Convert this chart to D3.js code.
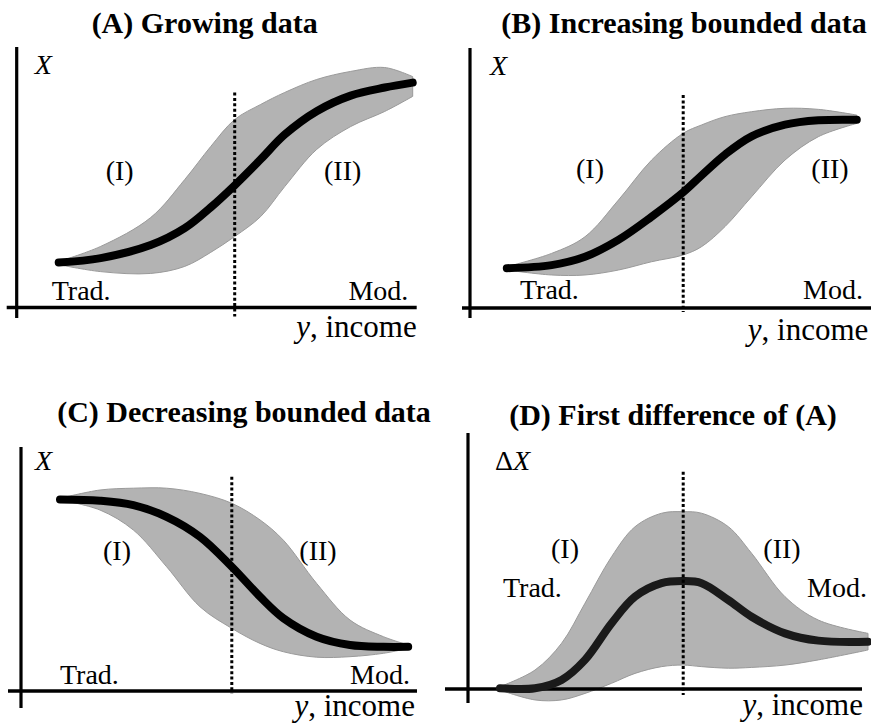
<!DOCTYPE html>
<html>
<head>
<meta charset="utf-8">
<script src="https://cdn.jsdelivr.net/npm/d3@7/dist/d3.min.js"></script>
</head>
<body style="margin:0">
<svg id="chart" width="871" height="723"></svg>
<script>
// ---------- DATA (x: income position 0-100, y: X level 0-100) ----------
const titles = ["(A) Growing data", "(B) Increasing bounded data", "(C) Decreasing bounded data", "(D) First difference of (A)"];
const yLabels = ["X", "X", "X", "\u0394X"];
const regionLabels = ["(I)", "(II)"];
const stageLabels = ["Trad.", "Mod."];

// Panel A
const xA   = [10.5, 21, 33.5, 42, 48.5, 54.5, 61, 67, 75, 83.5, 92, 99];
const midA = [17.3, 19.0, 24.0, 30.5, 38.5, 47.0, 57.0, 66.5, 75.5, 81.5, 84.6, 86.5];
const hiA  = [17.7, 23.5, 34.6, 49.2, 61.9, 72.3, 78.1, 82.7, 87.7, 90.8, 92.3, 88.8];
const loA  = [16.5, 13.8, 13.1, 15.8, 21.2, 27.3, 35.0, 46.5, 60.8, 69.6, 75.4, 81.2];
// Panel B
const xB   = [9.2, 20.4, 28.75, 37.1, 45.4, 53.3, 57.9, 63.75, 70.4, 78.75, 87.1, 96.7];
const midB = [15.3, 16.5, 19.7, 26.2, 35.1, 44.5, 51.0, 59.0, 66.0, 70.5, 72.2, 72.4];
const hiB  = [15.9, 21.0, 27.4, 41.5, 56.9, 67.2, 70.4, 73.6, 75.5, 76.8, 76.4, 74.2];
const loB  = [14.6, 12.7, 12.7, 14.6, 17.8, 20.4, 23.6, 31.3, 42.8, 56.9, 65.9, 71.0];
// Panel C
const xC   = [9.75, 19.75, 28.1, 36.4, 44.75, 52.7, 59.75, 65.6, 73.9, 82.25, 90.6, 96.8];
const midC = [73.7, 73.2, 71.5, 67.0, 59.3, 47.8, 36.3, 28.0, 20.9, 17.7, 17.0, 17.0];
const hiC  = [74.1, 77.3, 78.0, 78.0, 76.0, 72.2, 65.8, 58.0, 41.4, 27.3, 20.9, 17.7];
const loC  = [73.5, 69.6, 61.9, 47.8, 32.4, 24.1, 18.3, 15.1, 13.0, 13.2, 14.5, 16.4];
// Panel D
const xD   = [8, 16.75, 23.4, 29.25, 35.9, 41.75, 48.4, 53.8, 58.4, 65.1, 70.9, 79.25, 87.6, 100];
const midD = [0.3, 0.3, 3.5, 11.2, 25.3, 35.5, 40.7, 41.5, 40.7, 34.2, 27.8, 21.4, 18.6, 18.2];
const hiD  = [0.9, 7.3, 17.6, 33.0, 50.9, 62.4, 67.6, 68.2, 67.6, 62.4, 52.2, 35.5, 26.5, 21.4];
const loD  = [-0.4, -4.2, -4.2, -1.7, 2.2, 6.0, 8.6, 9.2, 8.6, 8.0, 8.3, 9.2, 11.2, 15.0];

// Threshold (dotted line) x-position per panel
const thresholdX = [54.5, 53.3, 52.7, 53.8];

const FONT = '"Liberation Serif"';

// ---------- LAYOUT ----------
const layout = [
  { ox: 16.7, oy: 307.5, vTop: -260.5, vBot: 10.5, hL: -10, hR: 400, dotTop: 82.7, dotBot: -3.5, lineColor: "#000",
    title: [188, -274.5], yl: [18, -234], r1: [103, -127.5], r2: [326, -127.5], trad: [35, -8], mod: [391.6, -8], inc: [400, 29] },
  { ox: 470, oy: 308, vTop: -260, vBot: 10, hL: -8, hR: 401, dotTop: 81.9, dotBot: -1.5, lineColor: "#000",
    title: [214, -274.7], yl: [20, -233], r1: [120, -130], r2: [360, -130], trad: [50, -8.7], mod: [393, -8.7], inc: [398.3, 32] },
  { ox: 21, oy: 691, vTop: -244, vBot: 17, hL: -13, hR: 396, dotTop: 82.4, dotBot: -0.9, lineColor: "#000",
    title: [223, -269.3], yl: [14, -221], r1: [96, -131], r2: [297, -131], trad: [39, -7], mod: [389, -7], inc: [394, 25] },
  { ox: 468, oy: 689, vTop: -256, vBot: 14, hL: -23, hR: 394, dotTop: 83.6, dotBot: -2.3, lineColor: "#1a1a1a",
    title: [205, -264], yl: [27, -219], r1: [97, -131], r2: [314, -131], trad: [35, -92], mod: [399, -92], inc: [395, 26] }
];

const series = [
  { x: xA, mid: midA, hi: hiA, lo: loA },
  { x: xB, mid: midB, hi: hiB, lo: loB },
  { x: xC, mid: midC, hi: hiC, lo: loC },
  { x: xD, mid: midD, hi: hiD, lo: loD }
];

const svg = d3.select("#chart");

function txt(x, y, size, anchor) {
  return svg.append("text").attr("x", x).attr("y", y)
    .attr("text-anchor", anchor || "start")
    .style("font-family", FONT).attr("font-size", size);
}

series.forEach((s, i) => {
  const L = layout[i];
  const g = svg.append("g");
  const xs = d3.scaleLinear().domain([0, 100]).range([L.ox, L.ox + 400]);
  const ys = d3.scaleLinear().domain([0, 100]).range([L.oy, L.oy - 260]);

  const pts = s.x.map((xv, k) => ({ x: xv, m: s.mid[k], h: s.hi[k], l: s.lo[k] }));

  // band
  const area = d3.area()
    .x(d => xs(d.x)).y0(d => ys(d.l)).y1(d => ys(d.h))
    .curve(d3.curveCatmullRom.alpha(0.5));
  g.append("path").datum(pts).attr("d", area)
    .attr("fill", "#b3b3b3").attr("stroke", "#9a9a9a").attr("stroke-width", 1)
    .attr("stroke-linejoin", "round");

  // axes
  g.append("line").attr("x1", L.ox).attr("x2", L.ox)
    .attr("y1", L.oy + L.vBot).attr("y2", L.oy + L.vTop)
    .attr("stroke", "#000").attr("stroke-width", 3.2);
  g.append("line").attr("x1", L.ox + L.hL).attr("x2", L.ox + L.hR)
    .attr("y1", L.oy).attr("y2", L.oy)
    .attr("stroke", "#000").attr("stroke-width", 3.6);

  // mean line
  const line = d3.line().x(d => xs(d.x)).y(d => ys(d.m))
    .curve(d3.curveCatmullRom.alpha(0.5));
  g.append("path").datum(pts).attr("d", line)
    .attr("fill", "none").attr("stroke", L.lineColor).attr("stroke-width", 8)
    .attr("stroke-linecap", "round").attr("stroke-linejoin", "round");

  // threshold dotted line
  g.append("line")
    .attr("x1", xs(thresholdX[i])).attr("x2", xs(thresholdX[i]))
    .attr("y1", ys(L.dotTop)).attr("y2", ys(L.dotBot))
    .attr("stroke", "#000").attr("stroke-width", 3)
    .attr("stroke-dasharray", "3,2.4");

  // texts
  txt(L.ox + L.title[0], L.oy + L.title[1], 30, "middle")
    .attr("font-weight", "bold").text(titles[i]);

  const yl = txt(L.ox + L.yl[0], L.oy + L.yl[1], 28);
  if (yLabels[i].startsWith("\u0394")) {
    yl.append("tspan").text("\u0394");
    yl.append("tspan").attr("font-style", "italic").text("X");
  } else {
    yl.append("tspan").attr("font-style", "italic").text(yLabels[i]);
  }

  txt(L.ox + L.r1[0], L.oy + L.r1[1], 28, "middle").text(regionLabels[0]);
  txt(L.ox + L.r2[0], L.oy + L.r2[1], 28, "middle").text(regionLabels[1]);
  txt(L.ox + L.trad[0], L.oy + L.trad[1], 28).text(stageLabels[0]);
  txt(L.ox + L.mod[0], L.oy + L.mod[1], 28, "end").text(stageLabels[1]);

  const inc = txt(L.ox + L.inc[0], L.oy + L.inc[1], 31, "end");
  inc.append("tspan").attr("font-style", "italic").text("y");
  inc.append("tspan").text(", income");
});
</script>
</body>
</html>
